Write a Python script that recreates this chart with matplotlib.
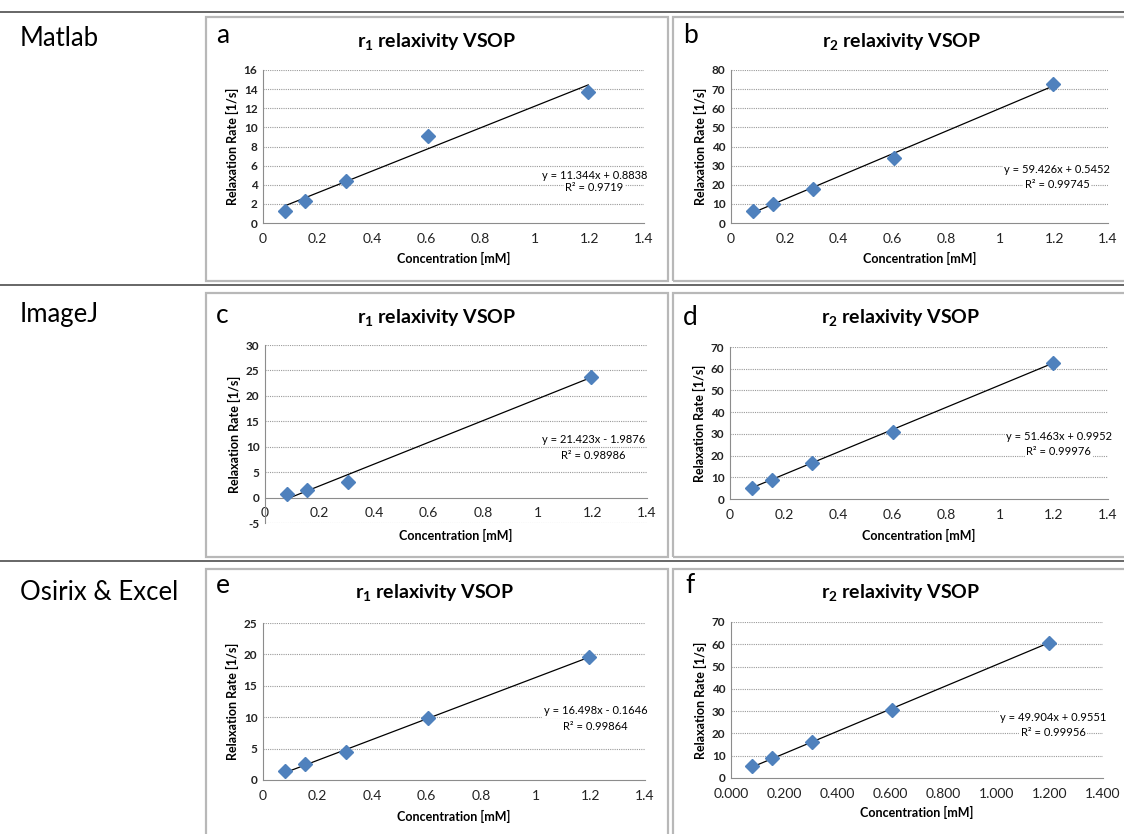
import numpy as np
import matplotlib.pyplot as plt
from matplotlib.patches import Rectangle
from matplotlib.lines import Line2D

plt.rcParams['font.family'] = ['Lato', 'DejaVu Sans']
plt.rcParams['mathtext.fontset'] = 'custom'
plt.rcParams['mathtext.rm'] = 'Lato'
plt.rcParams['mathtext.bf'] = 'Lato:bold'

# concentrations [mM]
conc = [0.08, 0.155, 0.305, 0.605, 1.195]
conc_imagej_r1 = [0.08, 0.155, 0.305, 1.195]

# relaxation rates [1/s]
matlab_r1 = [1.22, 2.33, 4.38, 9.15, 13.74]
matlab_r2 = [6.1, 9.7, 17.9, 33.9, 72.7]
imagej_r1 = [0.78, 1.5, 3.0, 23.8]
imagej_r2 = [5.2, 8.6, 16.8, 31.0, 62.7]
osirix_r1 = [1.44, 2.5, 4.5, 9.84, 19.57]
osirix_r2 = [5.2, 8.8, 16.2, 30.3, 60.8]

# trendline from the shown equations
slopes = [11.344, 59.426, 21.423, 51.463, 16.498, 49.904]
intercepts = [0.8838, 0.5452, -1.9876, 0.9952, -0.1646, 0.9551]
eq_text = ['y = 11.344x + 0.8838', 'y = 59.426x + 0.5452', 'y = 21.423x - 1.9876',
           'y = 51.463x + 0.9952', 'y = 16.498x - 0.1646', 'y = 49.904x + 0.9551']
r2_text = ['R² = 0.9719', 'R² = 0.99745', 'R² = 0.98986',
           'R² = 0.99976', 'R² = 0.99864', 'R² = 0.99956']

row_labels = ['Matlab', 'ImageJ', 'Osirix & Excel']
letters = ['a', 'b', 'c', 'd', 'e', 'f']
titles = [r'r$_\mathbf{1}$ relaxivity VSOP', r'r$_\mathbf{2}$ relaxivity VSOP'] * 3
xtick_vals = [0, 0.2, 0.4, 0.6, 0.8, 1.0, 1.2, 1.4]
xtick_short = ['0', '0.2', '0.4', '0.6', '0.8', '1', '1.2', '1.4']
xtick_long = ['0.000', '0.200', '0.400', '0.600', '0.800', '1.000', '1.200', '1.400']

W, H = 1124, 834
fig = plt.figure(figsize=(W / 100, H / 100), dpi=100)

def fx(x):
    return x / W

def fy(y):
    return 1 - y / H

# separators between rows
for y in [12, 285, 561]:
    fig.add_artist(Line2D([0, 1], [fy(y), fy(y)], color='#5a5a5a', lw=1.3))

# chart boxes
boxes = [(206, 668, 17, 281), (673, 1135, 17, 281),
         (206, 668, 293, 557), (673, 1135, 293, 557),
         (206, 668, 569, 845), (673, 1135, 569, 845)]
for l, r, t, b in boxes:
    fig.add_artist(Rectangle((fx(l), fy(b)), fx(r - l), (b - t) / H,
                             transform=fig.transFigure, fill=False,
                             ec='#b8b8b8', lw=1.6))

for lab, y in zip(row_labels, [46, 322, 600]):
    fig.text(fx(20), fy(y), lab, fontsize=18.5, va='baseline', ha='left')

axes_px = [(263, 644, 70, 223), (731, 1108, 70, 223),
           (265, 647, 345, 523), (730, 1108, 347, 499),
           (263, 645, 623, 780), (731, 1103, 622, 778)]
ylims = [(0, 16, 2), (0, 80, 10), (-5, 30, 5), (0, 70, 10), (0, 25, 5), (0, 70, 10)]
eq_pos = [(0.87, 0.31, 0.23), (0.865, 0.35, 0.25), (0.86, 0.47, 0.38),
          (0.87, 0.41, 0.31), (0.87, 0.44, 0.34), (0.866, 0.39, 0.29)]
xlabel_off = [35, 35, 12, 36, 36, 34]
title_pos = [(437, 42), (902, 42), (437, 318), (901, 318), (435, 593), (901, 593)]
letter_pos = [(216, 43), (683, 43), (216, 323), (683, 325), (216, 593), (685, 593)]

xs = [conc, conc, conc_imagej_r1, conc, conc, conc]
ys = [matlab_r1, matlab_r2, imagej_r1, imagej_r2, osirix_r1, osirix_r2]

for i in range(6):
    l, r, t, b = axes_px[i]
    ax = fig.add_axes([fx(l), fy(b), (r - l) / W, (b - t) / H])
    lo, hi, step = ylims[i]
    yt = list(range(lo, hi + 1, step))
    ax.set_xlim(0, 1.4)
    ax.set_ylim(lo, hi)
    ax.set_xticks(xtick_vals)
    ax.set_xticklabels(xtick_long if i == 5 else xtick_short,
                       fontweight='bold', fontsize=8.5)
    ax.set_yticks(yt)
    ax.set_yticklabels([str(v) for v in yt], fontweight='bold', fontsize=8.5)
    for yv in yt:
        if yv != 0:
            ax.axhline(yv, color='#9a9a9a', lw=0.8, ls=(0, (1, 1)), zorder=0)
    for s in ['top', 'right']:
        ax.spines[s].set_visible(False)
    ax.spines['left'].set_color('#8c8c8c')
    ax.spines['bottom'].set_color('#8c8c8c')
    ax.spines['bottom'].set_position(('data', 0))
    ax.tick_params(length=0, colors='#222222')
    ax.tick_params(axis='x', pad=7)
    ax.tick_params(axis='y', pad=4)

    x = np.array(xs[i])
    ax.plot([x.min(), x.max()],
            [slopes[i] * x.min() + intercepts[i], slopes[i] * x.max() + intercepts[i]],
            color='black', lw=0.9, zorder=2)
    ax.plot(xs[i], ys[i], ls='none', marker='D', ms=7.5, color='#4f81bd', zorder=3)

    ex, ey, ry = eq_pos[i]
    bb = dict(facecolor='white', edgecolor='none', pad=1)
    ax.text(ex, ey, eq_text[i], transform=ax.transAxes, ha='center', va='center',
            fontsize=8, bbox=bb, zorder=4)
    ax.text(ex, ry, r2_text[i], transform=ax.transAxes, ha='center', va='center',
            fontsize=8, bbox=bb, zorder=4)

    ax.set_xlabel('Concentration [mM]', fontsize=9, fontweight='bold')
    ax.xaxis.set_label_coords(0.5, -xlabel_off[i] / (b - t))
    ax.xaxis.label.set_va('center')
    ax.set_ylabel('Relaxation Rate [1/s]', fontsize=9, fontweight='bold')
    ax.yaxis.set_label_coords(-31 / (r - l), 0.5)
    ax.yaxis.label.set_va('center')

    tx, ty = title_pos[i]
    fig.text(fx(tx), fy(ty), titles[i], fontsize=14, fontweight='bold',
             ha='center', va='center')
    lx, ly = letter_pos[i]
    fig.text(fx(lx), fy(ly), letters[i], fontsize=19, ha='left', va='baseline')

fig.savefig('out.png', dpi=100)
plt.close(fig)
